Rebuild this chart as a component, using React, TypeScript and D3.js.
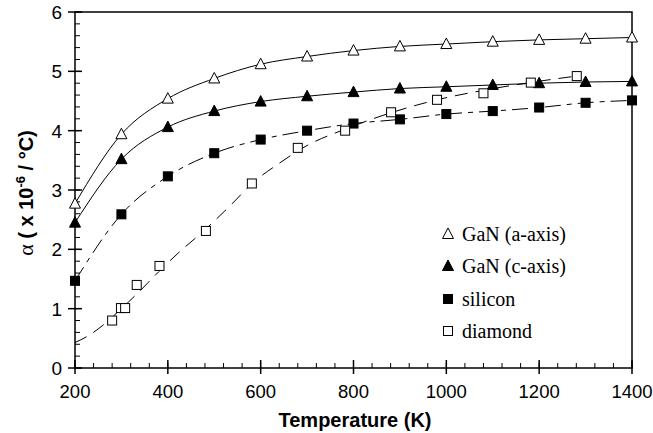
import React from "react";
import * as d3 from "d3";

const temps = [200, 300, 400, 500, 600, 700, 800, 900, 1000, 1100, 1200, 1300, 1400];
const ganA = [2.77, 3.94, 4.54, 4.88, 5.12, 5.25, 5.35, 5.42, 5.46, 5.5, 5.53, 5.55, 5.57];
const ganC = [2.45, 3.52, 4.06, 4.33, 4.49, 4.58, 4.65, 4.71, 4.74, 4.77, 4.8, 4.82, 4.83];
const silicon = [1.47, 2.59, 3.23, 3.62, 3.85, 4.0, 4.12, 4.19, 4.28, 4.33, 4.39, 4.47, 4.51];
const diamondT = [280, 299, 308, 333, 382, 482, 581, 680, 782, 881, 980, 1080, 1182, 1281];
const diamond = [0.8, 1.01, 1.01, 1.4, 1.72, 2.31, 3.11, 3.71, 4.0, 4.31, 4.52, 4.63, 4.81, 4.92];
const diamondFitT = [200, 230, 260, 300, 340, 380, 420, 480, 540, 580, 640, 700, 780, 880, 980, 1080, 1180, 1290];
const diamondFit = [0.43, 0.55, 0.72, 1.0, 1.3, 1.62, 1.92, 2.33, 2.78, 3.1, 3.45, 3.75, 4.02, 4.3, 4.52, 4.68, 4.81, 4.93];
const legendLabels = ["GaN (a-axis)", "GaN (c-axis)", "silicon", "diamond"];
const xTicks = [200, 400, 600, 800, 1000, 1200, 1400];
const yTicks = [0, 1, 2, 3, 4, 5, 6];

const L = 75, R = 632, T = 12, B = 368;

export default function App() {
  const x = d3.scaleLinear().domain([200, 1400]).range([L, R]);
  const y = d3.scaleLinear().domain([0, 6]).range([B, T]);
  const line = d3
    .line<[number, number]>()
    .x((d) => x(d[0]))
    .y((d) => y(d[1]))
    .curve(d3.curveMonotoneX);
  const pts = (ts: number[], vs: number[]) => ts.map((t, i) => [t, vs[i]] as [number, number]);

  const tri = (cx: number, cy: number, fill: string, k: number) => (
    <path
      key={k}
      d={`M${cx},${cy - 6}L${cx + 5.5},${cy + 4.5}L${cx - 5.5},${cy + 4.5}Z`}
      fill={fill}
      stroke="#000"
      strokeWidth={1}
    />
  );
  const sq = (cx: number, cy: number, fill: string, k: number) => (
    <rect key={k} x={cx - 4.5} y={cy - 4.5} width={9} height={9} fill={fill} stroke="#000" strokeWidth={1} />
  );

  const xMinor = d3.range(200, 1401, 40);
  const yMinor = d3.range(0, 6.001, 0.2);

  const legendY = [234, 266, 299, 331];
  const legendMarkers = [
    (cy: number) => tri(448, cy, "#fff", 0),
    (cy: number) => tri(448, cy, "#000", 0),
    (cy: number) => sq(448, cy, "#000", 0),
    (cy: number) => sq(448, cy, "#fff", 0),
  ];

  return (
    <div style={{ position: "absolute", left: 0, top: 0 }}>
      <svg width={653} height={433} style={{ display: "block", background: "#fff" }}>
        {/* curves */}
        <path d={line(pts(temps, ganA)) || ""} fill="none" stroke="#000" strokeWidth={1} />
        <path d={line(pts(temps, ganC)) || ""} fill="none" stroke="#000" strokeWidth={1} />
        <path d={line(pts(temps, silicon)) || ""} fill="none" stroke="#000" strokeWidth={1} strokeDasharray="16,6,5,6" />
        <path d={line(pts(diamondFitT, diamondFit)) || ""} fill="none" stroke="#000" strokeWidth={1} strokeDasharray="13,8" />

        {/* frame */}
        <rect x={L} y={T} width={R - L} height={B - T} fill="none" stroke="#000" strokeWidth={1.5} />
        {/* x ticks */}
        {xMinor.map((t) => (
          <line key={"xm" + t} x1={x(t)} x2={x(t)} y1={B} y2={B - 5} stroke="#000" strokeWidth={1} />
        ))}
        {xTicks.map((t) => (
          <g key={"xt" + t}>
            <line x1={x(t)} x2={x(t)} y1={B - 8} y2={B + 6} stroke="#000" strokeWidth={1.5} />
            <text x={x(t)} y={398} textAnchor="middle" fontFamily="Liberation Sans, Arial, sans-serif" fontSize={18.5}>
              {t}
            </text>
          </g>
        ))}
        {/* y ticks */}
        {yMinor.map((v, i) => (
          <line key={"ym" + i} x1={L} x2={L + 5} y1={y(v)} y2={y(v)} stroke="#000" strokeWidth={1} />
        ))}
        {yTicks.map((v) => (
          <g key={"yt" + v}>
            <line x1={L - 7} x2={L + 7} y1={y(v)} y2={y(v)} stroke="#000" strokeWidth={1.5} />
            <text x={62} y={y(v) + 7} textAnchor="end" fontFamily="Liberation Sans, Arial, sans-serif" fontSize={19}>
              {v}
            </text>
          </g>
        ))}

        {/* markers */}
        {temps.map((t, i) => tri(x(t), y(ganA[i]), "#fff", i))}
        {temps.map((t, i) => tri(x(t), y(ganC[i]), "#000", 100 + i))}
        {temps.map((t, i) => sq(x(t), y(silicon[i]), "#000", 200 + i))}
        {diamondT.map((t, i) => sq(x(t), y(diamond[i]), "#fff", 300 + i))}

        {/* legend */}
        {legendLabels.map((lab, i) => (
          <g key={"lg" + i}>
            {legendMarkers[i](legendY[i])}
            <text x={462} y={legendY[i] + 7} fontFamily="Liberation Serif, Times New Roman, serif" fontSize={20}>
              {lab}
            </text>
          </g>
        ))}

        {/* axis titles */}
        <text x={355} y={427} textAnchor="middle" fontFamily="Liberation Sans, Arial, sans-serif" fontWeight="bold" fontSize={20}>
          Temperature (K)
        </text>
        <text
          transform="translate(33,193) rotate(-90)"
          textAnchor="middle"
          fontFamily="Liberation Sans, Arial, sans-serif"
          fontWeight="bold"
          fontSize={20}
        >
          <tspan fontFamily="Liberation Serif, Times New Roman, serif" fontWeight="normal" fontSize={22}>α</tspan>
          <tspan> ( x 10</tspan>
          <tspan dy={-8} fontSize={13}>-6</tspan>
          <tspan dy={8}> / °C)</tspan>
        </text>
      </svg>
    </div>
  );
}
